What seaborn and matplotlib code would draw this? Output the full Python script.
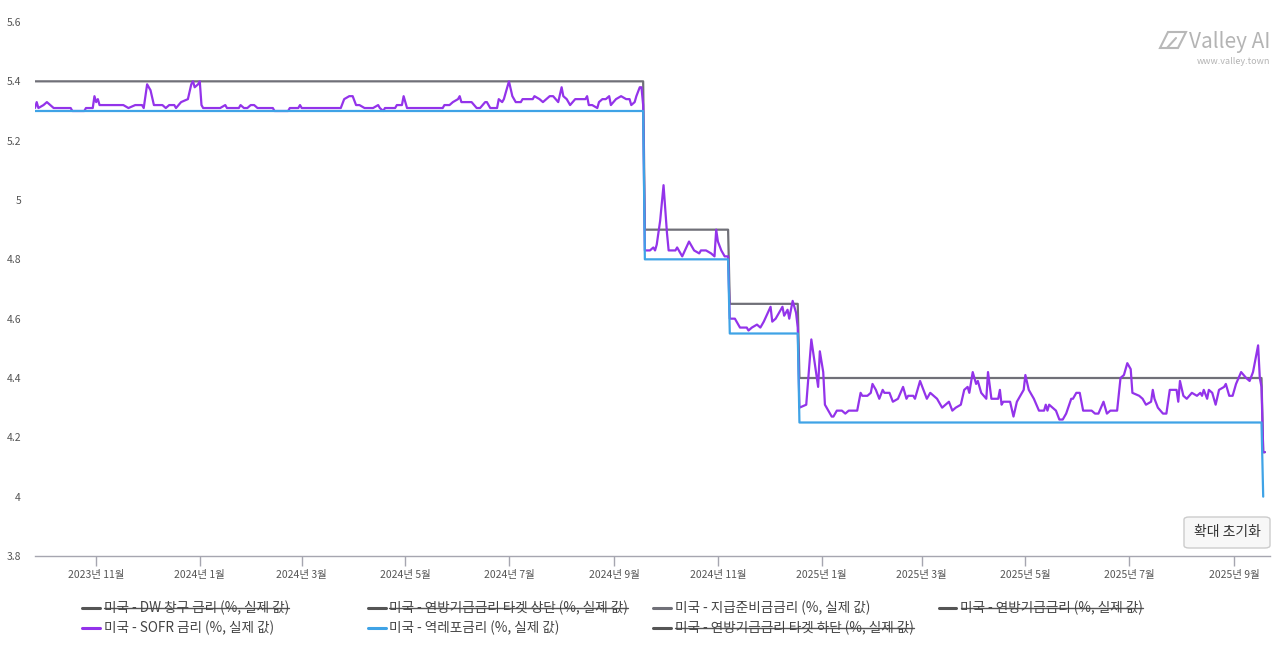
import pandas as pd
import matplotlib.pyplot as plt
import matplotlib.dates as mdates
import seaborn as sns
from matplotlib.lines import Line2D
from matplotlib.patches import FancyBboxPatch, Polygon
from matplotlib.ticker import FuncFormatter

# policy corridor: level change dates (last day of old level / first day of new level)
step_dates = ['2023-09-26', '2024-09-18', '2024-09-19', '2024-11-07', '2024-11-08',
              '2024-12-18', '2024-12-19', '2025-09-17', '2025-09-18', '2025-09-19']
iorb_values = [5.40, 5.40, 4.90, 4.90, 4.65, 4.65, 4.40, 4.40, 4.15, 4.15]
rrp_values = [5.30, 5.30, 4.80, 4.80, 4.55, 4.55, 4.25, 4.25, 4.00, None]

# SOFR
sofr_2023 = [
    ('2023-09-26', 5.31), ('2023-09-27', 5.33), ('2023-09-28', 5.31), ('2023-10-01', 5.32),
    ('2023-10-03', 5.33), ('2023-10-05', 5.32), ('2023-10-07', 5.31), ('2023-10-17', 5.31),
    ('2023-10-18', 5.30), ('2023-10-25', 5.30), ('2023-10-26', 5.31), ('2023-10-30', 5.31),
    ('2023-10-31', 5.35), ('2023-11-01', 5.33), ('2023-11-02', 5.34), ('2023-11-03', 5.32),
    ('2023-11-17', 5.32), ('2023-11-20', 5.31), ('2023-11-24', 5.32), ('2023-11-28', 5.32),
    ('2023-11-29', 5.31), ('2023-12-01', 5.39), ('2023-12-03', 5.37), ('2023-12-05', 5.32),
    ('2023-12-10', 5.32), ('2023-12-12', 5.31), ('2023-12-14', 5.32), ('2023-12-17', 5.32),
    ('2023-12-18', 5.31), ('2023-12-21', 5.33), ('2023-12-25', 5.34), ('2023-12-27', 5.39),
    ('2023-12-28', 5.40), ('2023-12-29', 5.38), ('2023-12-31', 5.39),
]
sofr_2024 = [
    ('2024-01-01', 5.40), ('2024-01-02', 5.32), ('2024-01-03', 5.31), ('2024-01-13', 5.31),
    ('2024-01-16', 5.32), ('2024-01-17', 5.31), ('2024-01-24', 5.31), ('2024-01-25', 5.32),
    ('2024-01-27', 5.31), ('2024-01-29', 5.31), ('2024-01-31', 5.32), ('2024-02-02', 5.32),
    ('2024-02-04', 5.31), ('2024-02-13', 5.31), ('2024-02-14', 5.30), ('2024-02-22', 5.30),
    ('2024-02-23', 5.31), ('2024-02-28', 5.31), ('2024-02-29', 5.32), ('2024-03-01', 5.31),
    ('2024-03-24', 5.31), ('2024-03-26', 5.34), ('2024-03-29', 5.35), ('2024-03-31', 5.35),
    ('2024-04-02', 5.32), ('2024-04-04', 5.32), ('2024-04-07', 5.31), ('2024-04-12', 5.31),
    ('2024-04-15', 5.32), ('2024-04-16', 5.31), ('2024-04-18', 5.30), ('2024-04-19', 5.31),
    ('2024-04-25', 5.31), ('2024-04-26', 5.32), ('2024-04-29', 5.32), ('2024-04-30', 5.35),
    ('2024-05-02', 5.31), ('2024-05-23', 5.31), ('2024-05-24', 5.32), ('2024-05-27', 5.32),
    ('2024-05-29', 5.33), ('2024-06-01', 5.34), ('2024-06-02', 5.35), ('2024-06-03', 5.33),
    ('2024-06-06', 5.33), ('2024-06-09', 5.33), ('2024-06-12', 5.31), ('2024-06-14', 5.31),
    ('2024-06-17', 5.33), ('2024-06-18', 5.33), ('2024-06-20', 5.31), ('2024-06-24', 5.31),
    ('2024-06-25', 5.34), ('2024-06-27', 5.33), ('2024-06-28', 5.34), ('2024-07-01', 5.40),
    ('2024-07-03', 5.35), ('2024-07-05', 5.33), ('2024-07-08', 5.33), ('2024-07-09', 5.34),
    ('2024-07-15', 5.34), ('2024-07-16', 5.35), ('2024-07-19', 5.34), ('2024-07-21', 5.33),
    ('2024-07-25', 5.35), ('2024-07-27', 5.35), ('2024-07-30', 5.33), ('2024-08-01', 5.38),
    ('2024-08-02', 5.35), ('2024-08-04', 5.34), ('2024-08-06', 5.32), ('2024-08-09', 5.34),
    ('2024-08-14', 5.34), ('2024-08-15', 5.34), ('2024-08-16', 5.35), ('2024-08-17', 5.32),
    ('2024-08-19', 5.32), ('2024-08-22', 5.31), ('2024-08-23', 5.33), ('2024-08-25', 5.34),
    ('2024-08-27', 5.34), ('2024-08-29', 5.35), ('2024-08-30', 5.32), ('2024-09-02', 5.34),
    ('2024-09-05', 5.35), ('2024-09-08', 5.34), ('2024-09-10', 5.34), ('2024-09-11', 5.32),
    ('2024-09-13', 5.33), ('2024-09-14', 5.35), ('2024-09-16', 5.38), ('2024-09-17', 5.38),
    ('2024-09-18', 5.32), ('2024-09-19', 4.83), ('2024-09-22', 4.83), ('2024-09-24', 4.84),
    ('2024-09-25', 4.83), ('2024-09-26', 4.85), ('2024-09-28', 4.93), ('2024-09-30', 5.05),
    ('2024-10-02', 4.89), ('2024-10-03', 4.83), ('2024-10-07', 4.83), ('2024-10-08', 4.84),
    ('2024-10-11', 4.81), ('2024-10-15', 4.86), ('2024-10-18', 4.83), ('2024-10-21', 4.82),
    ('2024-10-22', 4.83), ('2024-10-25', 4.83), ('2024-10-28', 4.82), ('2024-10-30', 4.81),
    ('2024-10-31', 4.90), ('2024-11-01', 4.86), ('2024-11-03', 4.83), ('2024-11-05', 4.81),
    ('2024-11-07', 4.81), ('2024-11-08', 4.60), ('2024-11-11', 4.60), ('2024-11-14', 4.57),
    ('2024-11-18', 4.57), ('2024-11-19', 4.56), ('2024-11-21', 4.57), ('2024-11-24', 4.58),
    ('2024-11-26', 4.57), ('2024-11-28', 4.59), ('2024-12-02', 4.64), ('2024-12-03', 4.59),
    ('2024-12-05', 4.60), ('2024-12-09', 4.64), ('2024-12-10', 4.61), ('2024-12-12', 4.63),
    ('2024-12-13', 4.60), ('2024-12-15', 4.66), ('2024-12-17', 4.62), ('2024-12-18', 4.57),
    ('2024-12-19', 4.30), ('2024-12-23', 4.31), ('2024-12-26', 4.53), ('2024-12-28', 4.45),
    ('2024-12-30', 4.37), ('2024-12-31', 4.49),
]
sofr_2025 = [
    ('2025-01-02', 4.42), ('2025-01-03', 4.31), ('2025-01-07', 4.27), ('2025-01-08', 4.27),
    ('2025-01-10', 4.29), ('2025-01-13', 4.29), ('2025-01-15', 4.28), ('2025-01-17', 4.29),
    ('2025-01-22', 4.29), ('2025-01-24', 4.35), ('2025-01-25', 4.34), ('2025-01-28', 4.34),
    ('2025-01-30', 4.35), ('2025-01-31', 4.38), ('2025-02-02', 4.36), ('2025-02-04', 4.33),
    ('2025-02-06', 4.36), ('2025-02-07', 4.35), ('2025-02-10', 4.35), ('2025-02-12', 4.32),
    ('2025-02-15', 4.33), ('2025-02-18', 4.37), ('2025-02-20', 4.33), ('2025-02-21', 4.34),
    ('2025-02-24', 4.34), ('2025-02-25', 4.33), ('2025-02-28', 4.39), ('2025-03-04', 4.33),
    ('2025-03-06', 4.35), ('2025-03-08', 4.34), ('2025-03-10', 4.33), ('2025-03-13', 4.30),
    ('2025-03-17', 4.32), ('2025-03-19', 4.29), ('2025-03-21', 4.30), ('2025-03-24', 4.31),
    ('2025-03-26', 4.36), ('2025-03-28', 4.37), ('2025-03-29', 4.35), ('2025-03-31', 4.42),
    ('2025-04-02', 4.38), ('2025-04-03', 4.39), ('2025-04-05', 4.35), ('2025-04-08', 4.33),
    ('2025-04-09', 4.42), ('2025-04-11', 4.33), ('2025-04-15', 4.33), ('2025-04-16', 4.36),
    ('2025-04-17', 4.31), ('2025-04-18', 4.32), ('2025-04-22', 4.32), ('2025-04-24', 4.27),
    ('2025-04-26', 4.32), ('2025-04-29', 4.35), ('2025-04-30', 4.36), ('2025-05-01', 4.41),
    ('2025-05-03', 4.36), ('2025-05-06', 4.33), ('2025-05-09', 4.29), ('2025-05-12', 4.29),
    ('2025-05-13', 4.31), ('2025-05-14', 4.29), ('2025-05-15', 4.31), ('2025-05-17', 4.30),
    ('2025-05-19', 4.29), ('2025-05-21', 4.26), ('2025-05-23', 4.26), ('2025-05-25', 4.28),
    ('2025-05-28', 4.33), ('2025-05-29', 4.33), ('2025-05-31', 4.35), ('2025-06-02', 4.35),
    ('2025-06-04', 4.29), ('2025-06-05', 4.29), ('2025-06-09', 4.29), ('2025-06-11', 4.28),
    ('2025-06-13', 4.28), ('2025-06-16', 4.32), ('2025-06-18', 4.28), ('2025-06-20', 4.29),
    ('2025-06-24', 4.29), ('2025-06-26', 4.40), ('2025-06-28', 4.41), ('2025-06-30', 4.45),
    ('2025-07-02', 4.43), ('2025-07-03', 4.35), ('2025-07-07', 4.34), ('2025-07-09', 4.33),
    ('2025-07-11', 4.31), ('2025-07-14', 4.32), ('2025-07-15', 4.36), ('2025-07-16', 4.33),
    ('2025-07-18', 4.30), ('2025-07-21', 4.28), ('2025-07-23', 4.28), ('2025-07-25', 4.36),
    ('2025-07-29', 4.36), ('2025-07-30', 4.32), ('2025-07-31', 4.39), ('2025-08-02', 4.34),
    ('2025-08-04', 4.33), ('2025-08-07', 4.35), ('2025-08-10', 4.34), ('2025-08-12', 4.35),
    ('2025-08-13', 4.34), ('2025-08-14', 4.36), ('2025-08-16', 4.33), ('2025-08-17', 4.36),
    ('2025-08-19', 4.35), ('2025-08-21', 4.31), ('2025-08-23', 4.36), ('2025-08-26', 4.37),
    ('2025-08-27', 4.38), ('2025-08-29', 4.34), ('2025-08-31', 4.34), ('2025-09-02', 4.38),
    ('2025-09-05', 4.42), ('2025-09-08', 4.40), ('2025-09-10', 4.39), ('2025-09-12', 4.42),
    ('2025-09-15', 4.51), ('2025-09-16', 4.40), ('2025-09-17', 4.37), ('2025-09-18', 4.15),
    ('2025-09-19', 4.15),
]

legend_labels = [
    '미국 - DW 창구 금리 (%, 실제 값)', '미국 - 연방기금금리 타겟 상단 (%, 실제 값)',
    '미국 - 지급준비금금리 (%, 실제 값)', '미국 - 연방기금금리 (%, 실제 값)',
    '미국 - SOFR 금리 (%, 실제 값)', '미국 - 역레포금리 (%, 실제 값)',
    '미국 - 연방기금금리 타겟 하단 (%, 실제 값)',
]
legend_hidden = [True, True, False, True, False, False, True]
y_ticks = [3.8, 4.0, 4.2, 4.4, 4.6, 4.8, 5.0, 5.2, 5.4, 5.6]

C_IORB = '#707078'
C_SOFR = '#9333ea'
C_RRP = '#3fa3e6'
C_HIDDEN = '#555555'
legend_colors = [C_HIDDEN, C_HIDDEN, C_IORB, C_HIDDEN, C_SOFR, C_RRP, C_HIDDEN]

sns.set_style('white')
plt.rcParams['font.family'] = ['Noto Sans CJK KR', 'DejaVu Sans']

steps = pd.DataFrame({'date': pd.to_datetime(step_dates), 'iorb': iorb_values, 'rrp': rrp_values})
sofr = pd.DataFrame(sofr_2023 + sofr_2024 + sofr_2025, columns=['date', 'value'])
sofr['date'] = pd.to_datetime(sofr['date'])

fig = plt.figure(figsize=(12.85, 6.5), dpi=100)
ax = fig.add_axes([35 / 1285, 94 / 650, 1235 / 1285, 534 / 650])

sns.lineplot(data=steps, x='date', y='iorb', ax=ax, color=C_IORB, linewidth=1.6)
sns.lineplot(data=sofr, x='date', y='value', ax=ax, color=C_SOFR, linewidth=1.6)
sns.lineplot(data=steps.dropna(), x='date', y='rrp', ax=ax, color=C_RRP, linewidth=1.6)

ax.set_xlim(pd.Timestamp('2023-09-26'), pd.Timestamp('2025-09-22'))
ax.set_ylim(3.8, 5.6)
ax.set_yticks(y_ticks)
ax.yaxis.set_major_formatter(FuncFormatter(lambda v, p: f'{v:g}'))
ax.xaxis.set_major_locator(mdates.MonthLocator(bymonth=[1, 3, 5, 7, 9, 11]))
ax.xaxis.set_major_formatter(FuncFormatter(
    lambda v, p: f'{mdates.num2date(v).year}년 {mdates.num2date(v).month}월'))
ax.set_xlabel('')
ax.set_ylabel('')
ax.grid(False)
for s in ['top', 'right', 'left']:
    ax.spines[s].set_visible(False)
ax.spines['bottom'].set_color('#a6a6b0')
ax.spines['bottom'].set_linewidth(1)
ax.tick_params(axis='x', length=7, width=1, color='#a6a6b0', labelsize=7.5,
               labelcolor='#555555', pad=3, bottom=True)
ax.tick_params(axis='y', length=0, labelsize=7.5, labelcolor='#555555', pad=10)

# legend laid out like the source: 4 equal columns, 2 rows
texts = []
for i, (lab, col, hid) in enumerate(zip(legend_labels, legend_colors, legend_hidden)):
    row, c = divmod(i, 4)
    x0 = (82 + 285.5 * c) / 1285
    yy = 1 - (608 + 20 * row) / 650
    fig.add_artist(Line2D([x0, x0 + 18 / 1285], [yy, yy], transform=fig.transFigure,
                          color=col, linewidth=2.2))
    t = fig.text(x0 + 22 / 1285, yy, lab, fontsize=9.8, color='#444444', va='center', ha='left')
    texts.append((t, hid))

fig.canvas.draw()
r = fig.canvas.get_renderer()
inv = fig.transFigure.inverted()
for t, hid in texts:
    if hid:
        bb = t.get_window_extent(r)
        (a0, b0), (a1, b1) = inv.transform([(bb.x0, bb.y0), (bb.x1, bb.y1)])
        ym = (b0 + b1) / 2
        fig.add_artist(Line2D([a0, a1], [ym, ym], transform=fig.transFigure,
                              color='#555555', linewidth=1))

# reset-zoom button
fig.add_artist(FancyBboxPatch((1184 / 1285, 1 - 548 / 650), 86 / 1285, 31 / 650,
                              boxstyle='round,pad=0,rounding_size=0.004',
                              transform=fig.transFigure, facecolor='#f7f7f7',
                              edgecolor='#cccccc', linewidth=1))
fig.text(1227 / 1285, 1 - 532 / 650, '확대 초기화', fontsize=10, color='#333333',
         ha='center', va='center')

# watermark: simple outline logo + text
logo = [(1160, 48), (1168, 32), (1186, 32), (1178, 48)]
fig.add_artist(Polygon([(px / 1285, 1 - py / 650) for px, py in logo], closed=True,
                       transform=fig.transFigure, fill=False, edgecolor='#b8b8b8', linewidth=1.5))
fig.add_artist(Line2D([1167 / 1285, 1176 / 1285], [1 - 48 / 650, 1 - 38 / 650],
                      transform=fig.transFigure, color='#b8b8b8', linewidth=1.5))
fig.text(1270 / 1285, 1 - 42 / 650, 'Valley AI', fontsize=15, color='#b4b4b4',
         ha='right', va='center')
fig.text(1270 / 1285, 1 - 61 / 650, 'www.valley.town', fontsize=6.5, color='#b4b4b4',
         ha='right', va='center')

fig.savefig('out.png', dpi=100, facecolor='white')
